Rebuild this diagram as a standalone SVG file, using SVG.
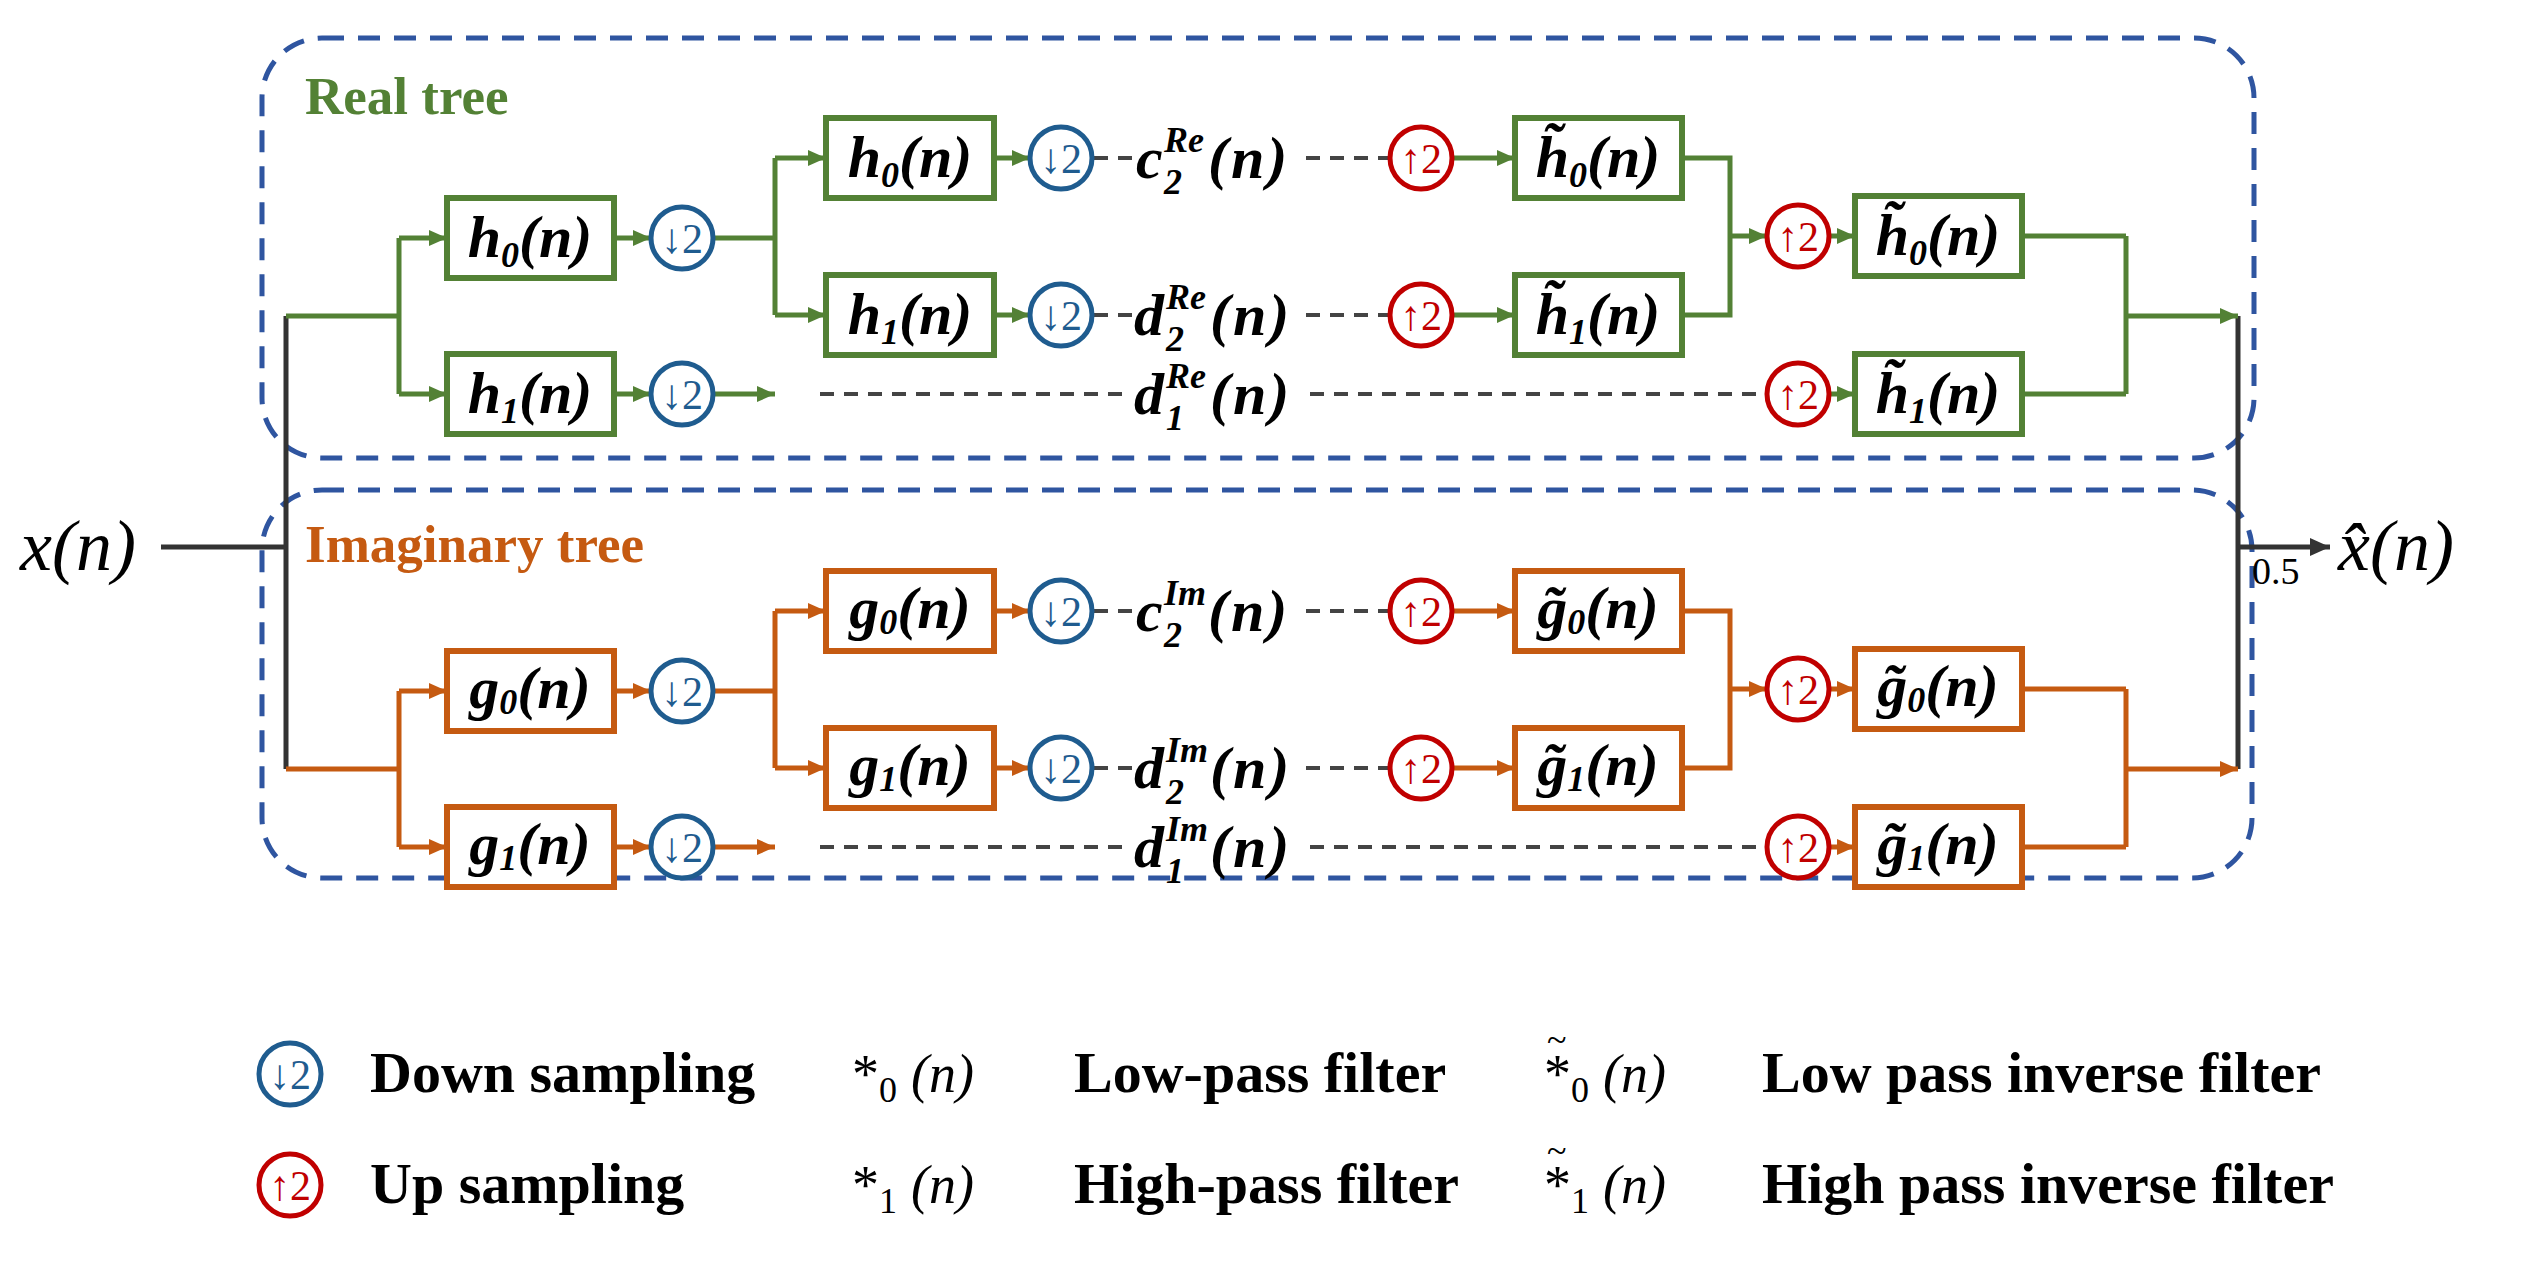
<svg xmlns="http://www.w3.org/2000/svg" width="2522" height="1285" viewBox="0 0 2522 1285">
<defs>
<marker id="ag" markerUnits="userSpaceOnUse" markerWidth="20" markerHeight="20" refX="18" refY="10" orient="auto"><path d="M0,2 L18,10 L0,18 Z" fill="#538135"/></marker>
<marker id="ao" markerUnits="userSpaceOnUse" markerWidth="20" markerHeight="20" refX="18" refY="10" orient="auto"><path d="M0,2 L18,10 L0,18 Z" fill="#c55a11"/></marker>
<marker id="ak" markerUnits="userSpaceOnUse" markerWidth="22" markerHeight="22" refX="20" refY="11" orient="auto"><path d="M0,2 L20,11 L0,20 Z" fill="#333"/></marker>
</defs>
<style>
.bg{fill:#fff}
.tree{fill:none;stroke:#2f55a0;stroke-width:5;stroke-dasharray:22 14}
.gb{fill:#fff;stroke:#538135;stroke-width:6}
.ob{fill:#fff;stroke:#c55a11;stroke-width:6}
.g{fill:none;stroke:#538135;stroke-width:5}
.o{fill:none;stroke:#c55a11;stroke-width:5}
.k{fill:none;stroke:#333;stroke-width:5}
.d{fill:none;stroke:#444;stroke-width:4;stroke-dasharray:14 10}
.dn{fill:#fff;stroke:#1f5c8f;stroke-width:5}
.up{fill:#fff;stroke:#c00000;stroke-width:5}
.dt{fill:#1f5c8f;font-family:"Liberation Serif",serif;font-size:42px;text-anchor:middle}
.ut{fill:#c00000;font-family:"Liberation Serif",serif;font-size:42px;text-anchor:middle}
.m{font-family:"Liberation Serif","DejaVu Serif",serif;font-style:italic;font-weight:bold;font-size:60px;fill:#000}
.s{font-size:36px}
.lg{font-family:"Liberation Serif",serif;font-weight:bold;font-size:58px;fill:#000}
.mi{font-family:"Liberation Serif","DejaVu Serif",serif;font-size:54px;fill:#000}
.tl{font-family:"Liberation Serif",serif;font-weight:bold;font-size:53px}
</style>
<rect class="bg" width="2522" height="1285"/>
<rect id="real-tree" class="tree" x="262" y="38" width="1992" height="420" rx="60"/>
<rect id="imag-tree" class="tree" x="262" y="490" width="1990" height="388" rx="60"/>
<text class="tl" x="305" y="114" fill="#538135">Real tree</text>
<text class="tl" x="305" y="562" fill="#c55a11">Imaginary tree</text>

<g id="connectors">
<path class="k" d="M161,547 H286 M286,316 V769 M2238,316 V769"/>
<path class="k" d="M2238,547 H2330" marker-end="url(#ak)"/>
<path class="g" d="M286,316 H399 M399,238 V394 M713,238 H775 M775,158 V315 M1682,158 H1730 V315 H1682 M2022,236 H2126 M2022,394 H2126 M2126,236 V394"/>
<g class="g">
<path d="M399,238 H447" marker-end="url(#ag)"/><path d="M399,394 H447" marker-end="url(#ag)"/>
<path d="M614,238 H651" marker-end="url(#ag)"/><path d="M614,394 H651" marker-end="url(#ag)"/>
<path d="M713,394 H775" marker-end="url(#ag)"/>
<path d="M775,158 H826" marker-end="url(#ag)"/><path d="M775,315 H826" marker-end="url(#ag)"/>
<path d="M994,158 H1030" marker-end="url(#ag)"/><path d="M994,315 H1030" marker-end="url(#ag)"/>
<path d="M1452,158 H1515" marker-end="url(#ag)"/><path d="M1452,315 H1515" marker-end="url(#ag)"/>
<path d="M1730,236 H1767" marker-end="url(#ag)"/>
<path d="M1829,236 H1855" marker-end="url(#ag)"/><path d="M1829,394 H1855" marker-end="url(#ag)"/>
<path d="M2126,316 H2238" marker-end="url(#ag)"/>
</g>
<path class="d" d="M1094,158 H1132 M1306,158 H1388 M1094,315 H1132 M1306,315 H1388 M820,394 H1130 M1310,394 H1765"/>
<path class="o" d="M286,769 H399 M399,691 V847 M713,691 H775 M775,611 V768 M1682,611 H1730 V768 H1682 M2022,689 H2126 M2022,847 H2126 M2126,689 V847"/>
<g class="o">
<path d="M399,691 H447" marker-end="url(#ao)"/><path d="M399,847 H447" marker-end="url(#ao)"/>
<path d="M614,691 H651" marker-end="url(#ao)"/><path d="M614,847 H651" marker-end="url(#ao)"/>
<path d="M713,847 H775" marker-end="url(#ao)"/>
<path d="M775,611 H826" marker-end="url(#ao)"/><path d="M775,768 H826" marker-end="url(#ao)"/>
<path d="M994,611 H1030" marker-end="url(#ao)"/><path d="M994,768 H1030" marker-end="url(#ao)"/>
<path d="M1452,611 H1515" marker-end="url(#ao)"/><path d="M1452,768 H1515" marker-end="url(#ao)"/>
<path d="M1730,689 H1767" marker-end="url(#ao)"/>
<path d="M1829,689 H1855" marker-end="url(#ao)"/><path d="M1829,847 H1855" marker-end="url(#ao)"/>
<path d="M2126,769 H2238" marker-end="url(#ao)"/>
</g>
<path class="d" d="M1094,611 H1132 M1306,611 H1388 M1094,768 H1132 M1306,768 H1388 M820,847 H1130 M1310,847 H1765"/>
</g>

<text class="mi" x="20" y="570" style="font-style:italic;font-size:72px">x(n)</text>
<text class="mi" x="2338" y="570" style="font-style:italic;font-size:72px">x̂(n)</text>
<text class="mi" x="2252" y="584" style="font-size:38px">0.5</text>

<g id="rh0a"><rect class="gb" x="447" y="198" width="167" height="80"/><text class="m" x="530" y="257" text-anchor="middle">h<tspan class="s" dy="10">0</tspan><tspan dy="-10">(n)</tspan></text></g>
<g id="rh1a"><rect class="gb" x="447" y="354" width="167" height="80"/><text class="m" x="530" y="413" text-anchor="middle">h<tspan class="s" dy="10">1</tspan><tspan dy="-10">(n)</tspan></text></g>
<g id="rh0b"><rect class="gb" x="826" y="118" width="168" height="80"/><text class="m" x="910" y="177" text-anchor="middle">h<tspan class="s" dy="10">0</tspan><tspan dy="-10">(n)</tspan></text></g>
<g id="rh1b"><rect class="gb" x="826" y="275" width="168" height="80"/><text class="m" x="910" y="334" text-anchor="middle">h<tspan class="s" dy="10">1</tspan><tspan dy="-10">(n)</tspan></text></g>
<g id="rih0b"><rect class="gb" x="1515" y="118" width="167" height="80"/><text class="m" x="1598" y="177" text-anchor="middle">h̃<tspan class="s" dy="10">0</tspan><tspan dy="-10">(n)</tspan></text></g>
<g id="rih1b"><rect class="gb" x="1515" y="275" width="167" height="80"/><text class="m" x="1598" y="334" text-anchor="middle">h̃<tspan class="s" dy="10">1</tspan><tspan dy="-10">(n)</tspan></text></g>
<g id="rih0a"><rect class="gb" x="1855" y="196" width="167" height="80"/><text class="m" x="1938" y="255" text-anchor="middle">h̃<tspan class="s" dy="10">0</tspan><tspan dy="-10">(n)</tspan></text></g>
<g id="rih1a"><rect class="gb" x="1855" y="354" width="167" height="80"/><text class="m" x="1938" y="413" text-anchor="middle">h̃<tspan class="s" dy="10">1</tspan><tspan dy="-10">(n)</tspan></text></g>
<g id="ig0a"><rect class="ob" x="447" y="651" width="167" height="80"/><text class="m" x="530" y="708" text-anchor="middle">g<tspan class="s" dy="6">0</tspan><tspan dy="-6">(n)</tspan></text></g>
<g id="ig1a"><rect class="ob" x="447" y="807" width="167" height="80"/><text class="m" x="530" y="864" text-anchor="middle">g<tspan class="s" dy="6">1</tspan><tspan dy="-6">(n)</tspan></text></g>
<g id="ig0b"><rect class="ob" x="826" y="571" width="168" height="80"/><text class="m" x="910" y="628" text-anchor="middle">g<tspan class="s" dy="6">0</tspan><tspan dy="-6">(n)</tspan></text></g>
<g id="ig1b"><rect class="ob" x="826" y="728" width="168" height="80"/><text class="m" x="910" y="785" text-anchor="middle">g<tspan class="s" dy="6">1</tspan><tspan dy="-6">(n)</tspan></text></g>
<g id="iig0b"><rect class="ob" x="1515" y="571" width="167" height="80"/><text class="m" x="1598" y="628" text-anchor="middle">g̃<tspan class="s" dy="6">0</tspan><tspan dy="-6">(n)</tspan></text></g>
<g id="iig1b"><rect class="ob" x="1515" y="728" width="167" height="80"/><text class="m" x="1598" y="785" text-anchor="middle">g̃<tspan class="s" dy="6">1</tspan><tspan dy="-6">(n)</tspan></text></g>
<g id="iig0a"><rect class="ob" x="1855" y="649" width="167" height="80"/><text class="m" x="1938" y="706" text-anchor="middle">g̃<tspan class="s" dy="6">0</tspan><tspan dy="-6">(n)</tspan></text></g>
<g id="iig1a"><rect class="ob" x="1855" y="807" width="167" height="80"/><text class="m" x="1938" y="864" text-anchor="middle">g̃<tspan class="s" dy="6">1</tspan><tspan dy="-6">(n)</tspan></text></g>

<g id="down-circles">
<circle class="dn" cx="682" cy="238" r="31"/><text class="dt" x="682" y="253">↓2</text>
<circle class="dn" cx="682" cy="394" r="31"/><text class="dt" x="682" y="409">↓2</text>
<circle class="dn" cx="1061" cy="158" r="31"/><text class="dt" x="1061" y="173">↓2</text>
<circle class="dn" cx="1061" cy="315" r="31"/><text class="dt" x="1061" y="330">↓2</text>
<circle class="dn" cx="682" cy="691" r="31"/><text class="dt" x="682" y="706">↓2</text>
<circle class="dn" cx="682" cy="847" r="31"/><text class="dt" x="682" y="862">↓2</text>
<circle class="dn" cx="1061" cy="611" r="31"/><text class="dt" x="1061" y="626">↓2</text>
<circle class="dn" cx="1061" cy="768" r="31"/><text class="dt" x="1061" y="783">↓2</text>
</g>
<g id="up-circles">
<circle class="up" cx="1421" cy="158" r="31"/><text class="ut" x="1421" y="173">↑2</text>
<circle class="up" cx="1421" cy="315" r="31"/><text class="ut" x="1421" y="330">↑2</text>
<circle class="up" cx="1798" cy="236" r="31"/><text class="ut" x="1798" y="251">↑2</text>
<circle class="up" cx="1798" cy="394" r="31"/><text class="ut" x="1798" y="409">↑2</text>
<circle class="up" cx="1421" cy="611" r="31"/><text class="ut" x="1421" y="626">↑2</text>
<circle class="up" cx="1421" cy="768" r="31"/><text class="ut" x="1421" y="783">↑2</text>
<circle class="up" cx="1798" cy="689" r="31"/><text class="ut" x="1798" y="704">↑2</text>
<circle class="up" cx="1798" cy="847" r="31"/><text class="ut" x="1798" y="862">↑2</text>
</g>

<g id="coef-labels" class="m">
<text x="1136" y="178">c</text><text class="s" x="1164" y="194">2</text><text class="s" x="1164" y="152">Re</text><text x="1208" y="178" letter-spacing="3">(n)</text>
<text x="1134" y="335">d</text><text class="s" x="1166" y="351">2</text><text class="s" x="1166" y="309">Re</text><text x="1210" y="335" letter-spacing="3">(n)</text>
<text x="1134" y="414">d</text><text class="s" x="1166" y="430">1</text><text class="s" x="1166" y="388">Re</text><text x="1210" y="414" letter-spacing="3">(n)</text>
<text x="1136" y="631">c</text><text class="s" x="1164" y="647">2</text><text class="s" x="1164" y="605">Im</text><text x="1208" y="631" letter-spacing="3">(n)</text>
<text x="1134" y="788">d</text><text class="s" x="1166" y="804">2</text><text class="s" x="1166" y="762">Im</text><text x="1210" y="788" letter-spacing="3">(n)</text>
<text x="1134" y="867">d</text><text class="s" x="1166" y="883">1</text><text class="s" x="1166" y="841">Im</text><text x="1210" y="867" letter-spacing="3">(n)</text>
</g>

<g id="legend">
<circle class="dn" cx="290" cy="1074" r="31"/><text class="dt" x="290" y="1089">↓2</text>
<text class="lg" x="370" y="1092">Down sampling</text>
<text class="mi" x="852" y="1092">*<tspan style="font-size:36px" dy="10">0</tspan><tspan dx="14" dy="-10" style="font-style:italic">(n)</tspan></text>
<text class="lg" x="1074" y="1092">Low-pass filter</text>
<text class="mi" x="1547" y="1052" style="font-size:36px">~</text>
<text class="mi" x="1544" y="1092">*<tspan style="font-size:36px" dy="10">0</tspan><tspan dx="14" dy="-10" style="font-style:italic">(n)</tspan></text>
<text class="lg" x="1762" y="1092">Low pass inverse filter</text>
<circle class="up" cx="290" cy="1185" r="31"/><text class="ut" x="290" y="1200">↑2</text>
<text class="lg" x="370" y="1203">Up sampling</text>
<text class="mi" x="852" y="1203">*<tspan style="font-size:36px" dy="10">1</tspan><tspan dx="14" dy="-10" style="font-style:italic">(n)</tspan></text>
<text class="lg" x="1074" y="1203">High-pass filter</text>
<text class="mi" x="1547" y="1163" style="font-size:36px">~</text>
<text class="mi" x="1544" y="1203">*<tspan style="font-size:36px" dy="10">1</tspan><tspan dx="14" dy="-10" style="font-style:italic">(n)</tspan></text>
<text class="lg" x="1762" y="1203">High pass inverse filter</text>
</g>
</svg>
